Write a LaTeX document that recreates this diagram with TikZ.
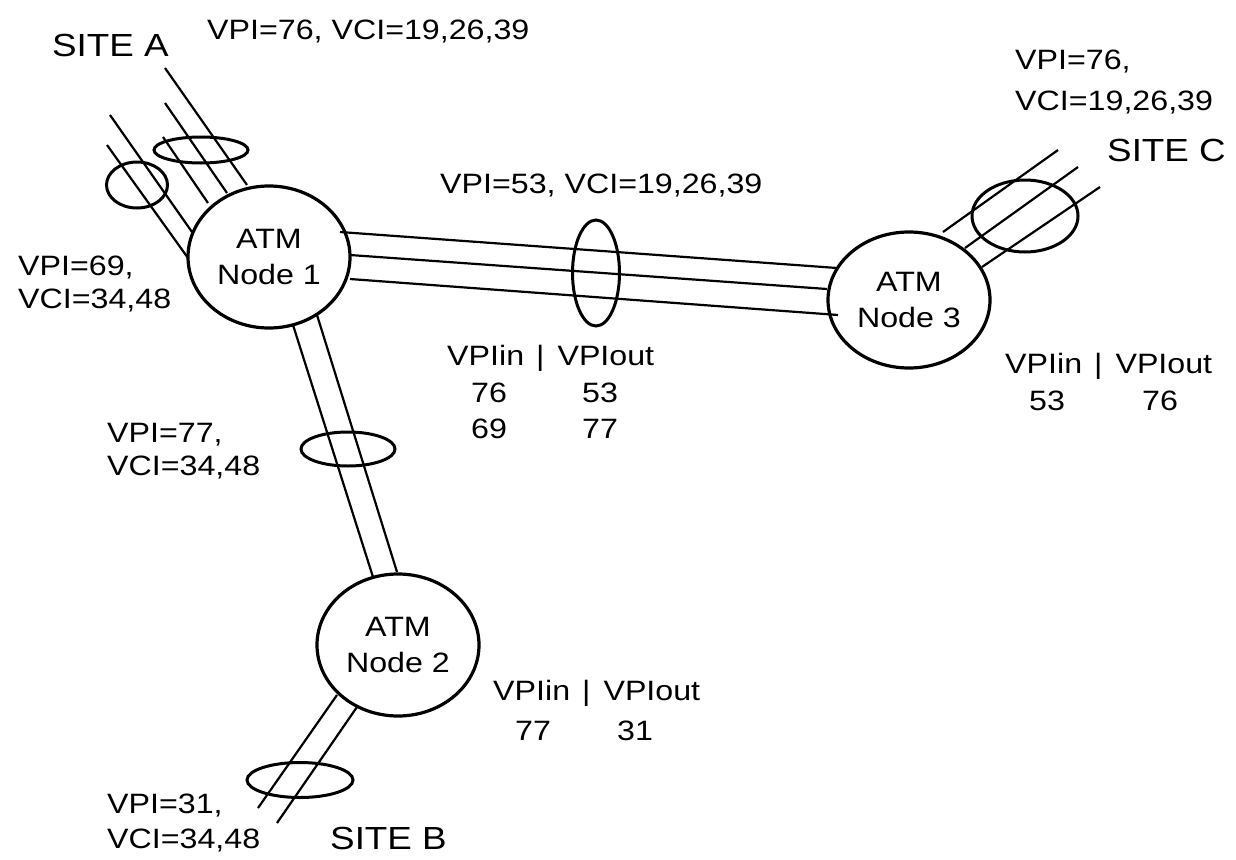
\documentclass[tikz,border=0pt]{standalone}
\usepackage{fontspec}
\setmainfont{Liberation Sans}[FakeStretch=1.15]
\usetikzlibrary{shapes.geometric}
\begin{document}
\begin{tikzpicture}[x=1pt,y=-1pt,
  atm/.style={ellipse, draw, line width=3.2pt, minimum width=162pt, minimum height=142pt,
    inner sep=0pt, align=center, font=\fontsize{28}{36}\selectfont},
  link/.style={line width=2.2pt},
  ring/.style={ellipse, draw, line width=3pt, inner sep=0pt},
  lbl/.style={font=\fontsize{28}{34}\selectfont, inner sep=0pt, anchor=base west},
  num/.style={font=\fontsize{28}{34}\selectfont, inner sep=0pt, anchor=base},
  sitelbl/.style={font=\fontsize{32}{38}\selectfont, inner sep=0pt, anchor=base west}]
\useasboundingbox (0,0) rectangle (1236,859);

% ATM nodes
\node[atm] (n1) at (269,257) {ATM\\Node 1};
\node[atm] (n2) at (398,645) {ATM\\Node 2};
\node[atm, minimum height=136pt] (n3) at (909,300) {ATM\\Node 3};

% Node1 -- Node3 (three VCs)
\draw[link] ([shift={(71,-25)}]n1.center) -- ([shift={(-72,-32)}]n3.center);
\draw[link] ([shift={(81,-2)}]n1.center) -- ([shift={(-82,-11)}]n3.center);
\draw[link] ([shift={(81,22)}]n1.center) -- ([shift={(-71,15)}]n3.center);
\node[ring, minimum width=47pt, minimum height=106pt] (r13) at (596,273) {};

% Node1 -- Node2 (two VCs)
\draw[link] ([shift={(24,68)}]n1.center) -- ([shift={(-25,-68)}]n2.center);
\draw[link] ([shift={(48,58)}]n1.center) -- ([shift={(-1,-73)}]n2.center);
\node[ring, minimum width=94pt, minimum height=34pt] (r12) at (348,449) {};

% Node2 -- Site B
\coordinate (b1) at (258,808);
\coordinate (b2) at (277,823);
\draw[link] ([shift={(-61,50)}]n2.center) -- (b1);
\draw[link] ([shift={(-41,62)}]n2.center) -- (b2);
\node[ring, minimum width=106pt, minimum height=35pt] (rB) at (300,780) {};

% Site A -- Node1
\coordinate (a1) at (165,68);
\coordinate (a2) at (165,103);
\coordinate (a3) at (163,137);
\coordinate (a4) at (110,115);
\coordinate (a5) at (107,145);
\draw[link] (a1) -- ([shift={(-22,-72)}]n1.center);
\draw[link] (a2) -- ([shift={(-42,-64)}]n1.center);
\draw[link] (a3) -- ([shift={(-61,-54)}]n1.center);
\draw[link] (a4) -- ([shift={(-77,-25)}]n1.center);
\draw[link] (a5) -- ([shift={(-81,1)}]n1.center);
\node[ring, minimum width=94pt, minimum height=26pt] (rA1) at (201,150) {};
\node[ring, minimum width=61pt, minimum height=46pt] (rA2) at (137,185) {};

% Node3 -- Site C
\coordinate (c1) at (1058,150);
\coordinate (c2) at (1078,167);
\coordinate (c3) at (1100,187);
\draw[link] ([shift={(34,-68)}]n3.center) -- (c1);
\draw[link] ([shift={(56,-52)}]n3.center) -- (c2);
\draw[link] ([shift={(73,-33)}]n3.center) -- (c3);
\node[ring, minimum width=106pt, minimum height=72pt] (rC) at (1025,216) {};

% Labels
\node[sitelbl] (siteA) at (52,56.5) {SITE A};
\node[lbl] (tA) at (207,40) {VPI=76, VCI=19,26,39};
\node[lbl] (tC1) at (1015,70) {VPI=76,};
\node[lbl] (tC2) at (1015,110) {VCI=19,26,39};
\node[sitelbl] (siteC) at (1107,161) {SITE C};
\node[lbl] (t13) at (440,193) {VPI=53, VCI=19,26,39};
\node[lbl] (tA21) at (18,275) {VPI=69,};
\node[lbl] (tA22) at (18,308) {VCI=34,48};
\node[lbl] (t121) at (107,442) {VPI=77,};
\node[lbl] (t122) at (107,475) {VCI=34,48};
\node[lbl] (tB1) at (107,813) {VPI=31,};
\node[lbl] (tB2) at (107,848) {VCI=34,48};
\node[sitelbl] (siteB) at (330,849) {SITE B};

% Node 1 table
\node[lbl] (h1) at (447,365) {VPIin\hspace{12pt}|\hspace{13pt}VPIout};
\node[num] (h1a) at (489,402) {76};
\node[num] (h1b) at (600,402) {53};
\node[num] (h1c) at (489,438) {69};
\node[num] (h1d) at (600,438) {77};
% Node 3 table
\node[lbl] (h3) at (1005,373) {VPIin\hspace{12pt}|\hspace{13pt}VPIout};
\node[num] (h3a) at (1047,410) {53};
\node[num] (h3b) at (1160,410) {76};
% Node 2 table
\node[lbl] (h2) at (493,700) {VPIin\hspace{12pt}|\hspace{13pt}VPIout};
\node[num] (h2a) at (533,740) {77};
\node[num] (h2b) at (635,740) {31};
\end{tikzpicture}
\end{document}
